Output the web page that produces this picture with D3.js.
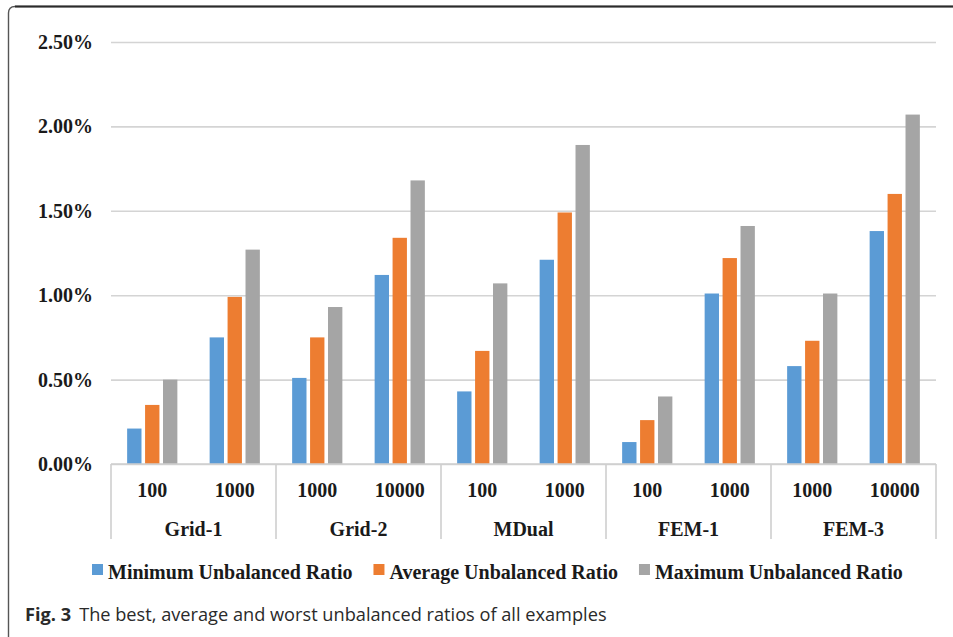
<!DOCTYPE html>
<html>
<head>
<meta charset="utf-8">
<script src="https://cdn.jsdelivr.net/npm/d3@7"></script>
<style>
  html, body { margin: 0; padding: 0; background: #fff; }
  svg { display: block; }
</style>
</head>
<body>
<svg id="chart" width="953" height="637"></svg>
<script>
// Benchmark groups and the partition sizes tested in each
const groups = ["Grid-1", "Grid-2", "MDual", "FEM-1", "FEM-3"];
const sizes = [["100", "1000"], ["1000", "10000"], ["100", "1000"], ["100", "1000"], ["1000", "10000"]];

// Unbalanced ratios (%) per test case, in the order of the cases above
const minRatio = [0.21, 0.75, 0.51, 1.12, 0.43, 1.21, 0.13, 1.01, 0.58, 1.38];
const avgRatio = [0.35, 0.99, 0.75, 1.34, 0.67, 1.49, 0.26, 1.22, 0.73, 1.60];
const maxRatio = [0.50, 1.27, 0.93, 1.68, 1.07, 1.89, 0.40, 1.41, 1.01, 2.07];

const seriesNames = ["Minimum Unbalanced Ratio", "Average Unbalanced Ratio", "Maximum Unbalanced Ratio"];
const seriesColors = ["#5b9bd5", "#ed7d31", "#a5a5a5"];
const yTicks = [0, 0.5, 1.0, 1.5, 2.0, 2.5];

const captionLead = "Fig. 3";
const captionText = "The best, average and worst unbalanced ratios of all examples";

const svg = d3.select("#chart");
const serif = "'Liberation Serif', 'Times New Roman', serif";

const plot = { left: 111, right: 936, top: 42, bottom: 464 };

// one entry per test case
const cases = [];
groups.forEach((g, gi) => sizes[gi].forEach((s, si) => cases.push({ id: gi + "-" + si, group: g, size: s })));
const series = [minRatio, avgRatio, maxRatio];

const x = d3.scaleBand().domain(cases.map(c => c.id)).range([plot.left, plot.right]).padding(0);
const xGroup = d3.scaleBand().domain(groups).range([plot.left, plot.right]).padding(0);
const xInner = d3.scaleBand().domain(d3.range(3)).range([0, x.bandwidth()])
  .paddingInner(0.2).paddingOuter(0.9);
const y = d3.scaleLinear().domain([0, 2.5]).range([plot.bottom, plot.top]);

// frame around the figure
svg.append("path")
  .attr("d", "M8.5,637 L8.5,13 Q8.5,6.5 15,6.5 L953,6.5")
  .attr("fill", "none").attr("stroke", "#555").attr("stroke-width", 1.4);
svg.append("path")
  .attr("d", "M15,6.5 L953,6.5")
  .attr("fill", "none").attr("stroke", "#2b2b2b").attr("stroke-width", 1.8);

// horizontal gridlines + y labels
const yAxis = d3.axisLeft(y).tickValues(yTicks)
  .tickSize(-(plot.right - plot.left))
  .tickPadding(18)
  .tickFormat(d => d3.format(".2f")(d) + "%");
const gy = svg.append("g").attr("transform", `translate(${plot.left},0)`).call(yAxis);
gy.select(".domain").remove();
gy.selectAll(".tick line").attr("stroke", "#d4d4d4").attr("stroke-width", 1.6);
gy.selectAll(".tick text")
  .attr("font-family", serif).attr("font-size", 20).attr("font-weight", "bold")
  .attr("fill", "#1a1a1a");

// bars
const barG = svg.append("g");
series.forEach((vals, si) => {
  barG.selectAll(null).data(cases).enter().append("rect")
    .attr("x", (c) => x(c.id) + xInner(si))
    .attr("width", xInner.bandwidth())
    .attr("y", (c, i) => y(vals[i]))
    .attr("height", (c, i) => y(0) - y(vals[i]))
    .attr("fill", seriesColors[si]);
});

// category axis: baseline and group separators
svg.append("line")
  .attr("x1", plot.left).attr("x2", plot.right)
  .attr("y1", plot.bottom).attr("y2", plot.bottom)
  .attr("stroke", "#cfcfcf").attr("stroke-width", 1.6);
const sepX = groups.map(g => xGroup(g)).concat([plot.right]);
svg.selectAll(null).data(sepX).enter().append("line")
  .attr("x1", d => d).attr("x2", d => d)
  .attr("y1", plot.bottom).attr("y2", 539)
  .attr("stroke", "#cfcfcf").attr("stroke-width", 1.6);

// size labels
svg.selectAll(null).data(cases).enter().append("text")
  .attr("x", c => x(c.id) + x.bandwidth() / 2)
  .attr("y", 497)
  .attr("text-anchor", "middle")
  .attr("font-family", serif).attr("font-size", 20).attr("font-weight", "bold")
  .attr("fill", "#1a1a1a")
  .text(c => c.size);

// group labels
svg.selectAll(null).data(groups).enter().append("text")
  .attr("x", g => xGroup(g) + xGroup.bandwidth() / 2)
  .attr("y", 536)
  .attr("text-anchor", "middle")
  .attr("font-family", serif).attr("font-size", 20).attr("font-weight", "bold")
  .attr("fill", "#1a1a1a")
  .text(g => g);

// legend
const legend = svg.append("g");
let lx = 92;
seriesNames.forEach((name, i) => {
  legend.append("rect").attr("x", lx).attr("y", 564).attr("width", 11).attr("height", 11)
    .attr("fill", seriesColors[i]);
  const t = legend.append("text").attr("x", lx + 16).attr("y", 579)
    .attr("font-family", serif).attr("font-size", 20).attr("font-weight", "bold")
    .attr("fill", "#1a1a1a").text(name);
  lx += 16 + t.node().getComputedTextLength() + 21;
});

// caption
const cap = svg.append("text").attr("x", 25).attr("y", 621)
  .attr("font-family", "'Open Sans', 'Noto Sans', sans-serif").attr("font-size", 18.2)
  .attr("fill", "#2a2a2a");
cap.append("tspan").attr("font-weight", "bold").text(captionLead);
cap.append("tspan").attr("dx", 8).text(captionText);
</script>
</body>
</html>
